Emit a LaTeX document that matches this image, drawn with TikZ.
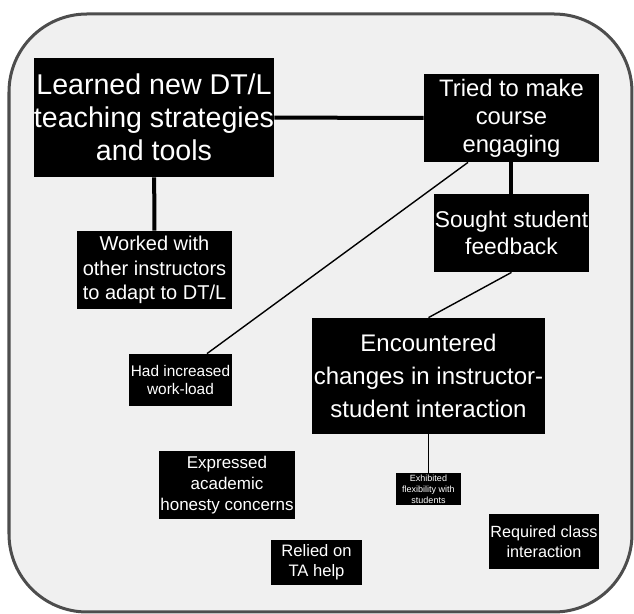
\documentclass[tikz,border=0pt]{standalone}
\usepackage{fontspec}
\setmainfont{Liberation Sans}
\usetikzlibrary{calc}
\definecolor{panel}{HTML}{F0F0F0}
\definecolor{rim}{HTML}{4D4D4D}

\tikzstyle{code} = [rectangle, fill=black, text=white, inner sep=0pt, align=center]
\tikzstyle{bond} = [line width=2pt]
\tikzstyle{link} = [line width=0.7pt]

\begin{document}
\begin{tikzpicture}[x=0.5pt,y=-0.5pt]
    \useasboundingbox (0,0) rectangle (634,614);
    \draw[rim, fill=panel, line width=1.5pt, rounded corners=39pt] (9,14) rectangle (632,612);
    \node[code, minimum width=119pt, minimum height=59.5pt, font=\fontsize{14.3}{16.5}\selectfont] (learned) at (154,117.5) {Learned new DT/L\\teaching strategies\\and tools};
    \node[code, minimum width=87.5pt, minimum height=44pt, font=\fontsize{11.9}{14}\selectfont] (tried) at (511.5,118) {Tried to make\\course\\engaging};
    \node[code, minimum width=77.5pt, minimum height=39pt, font=\fontsize{11.4}{13.3}\selectfont] (sought) at (511.5,233) {Sought student\\feedback};
    \node[code, minimum width=77.5pt, minimum height=39pt, font=\fontsize{10}{12.2}\selectfont] (worked) at (154.5,270) {Worked with\\other instructors\\to adapt to DT/L};
    \node[code, minimum width=51.5pt, minimum height=26pt, font=\fontsize{7.7}{9.3}\selectfont] (workload) at (180.5,380) {Had increased\\work-load};
    \node[code, minimum width=116.5pt, minimum height=58pt, font=\fontsize{12}{16.3}\selectfont] (encountered) at (428.5,376) {Encountered\\changes in instructor-\\student interaction};
    \node[code, minimum width=32.5pt, minimum height=16pt, font=\fontsize{4.5}{5.5}\selectfont] (flexibility) at (428.5,489) {Exhibited\\flexibility with\\students};
    \node[code, minimum width=68pt, minimum height=34pt, font=\fontsize{8.5}{10.4}\selectfont] (honesty) at (227,485) {Expressed\\academic\\honesty concerns};
    \node[code, minimum width=45.5pt, minimum height=22.5pt, font=\fontsize{8.3}{10}\selectfont] (tahelp) at (316.5,562.5) {Relied on\\TA help};
    \node[code, minimum width=55pt, minimum height=27.5pt, font=\fontsize{8.1}{10}\selectfont] (interaction) at (544,541.5) {Required class\\interaction};
    \draw [bond] (learned) -- (tried);
    \draw [bond] (learned) -- (worked);
    \draw [bond] (tried) -- (sought);
    \draw [link] ($(tried.south)+(-43.5,0)$) -- ($(workload.north)+(26.5,0)$);
    \draw [link] (sought.south) -- (encountered.north);
    \draw [link] (encountered.south) -- (flexibility.north);
\end{tikzpicture}
\end{document}
